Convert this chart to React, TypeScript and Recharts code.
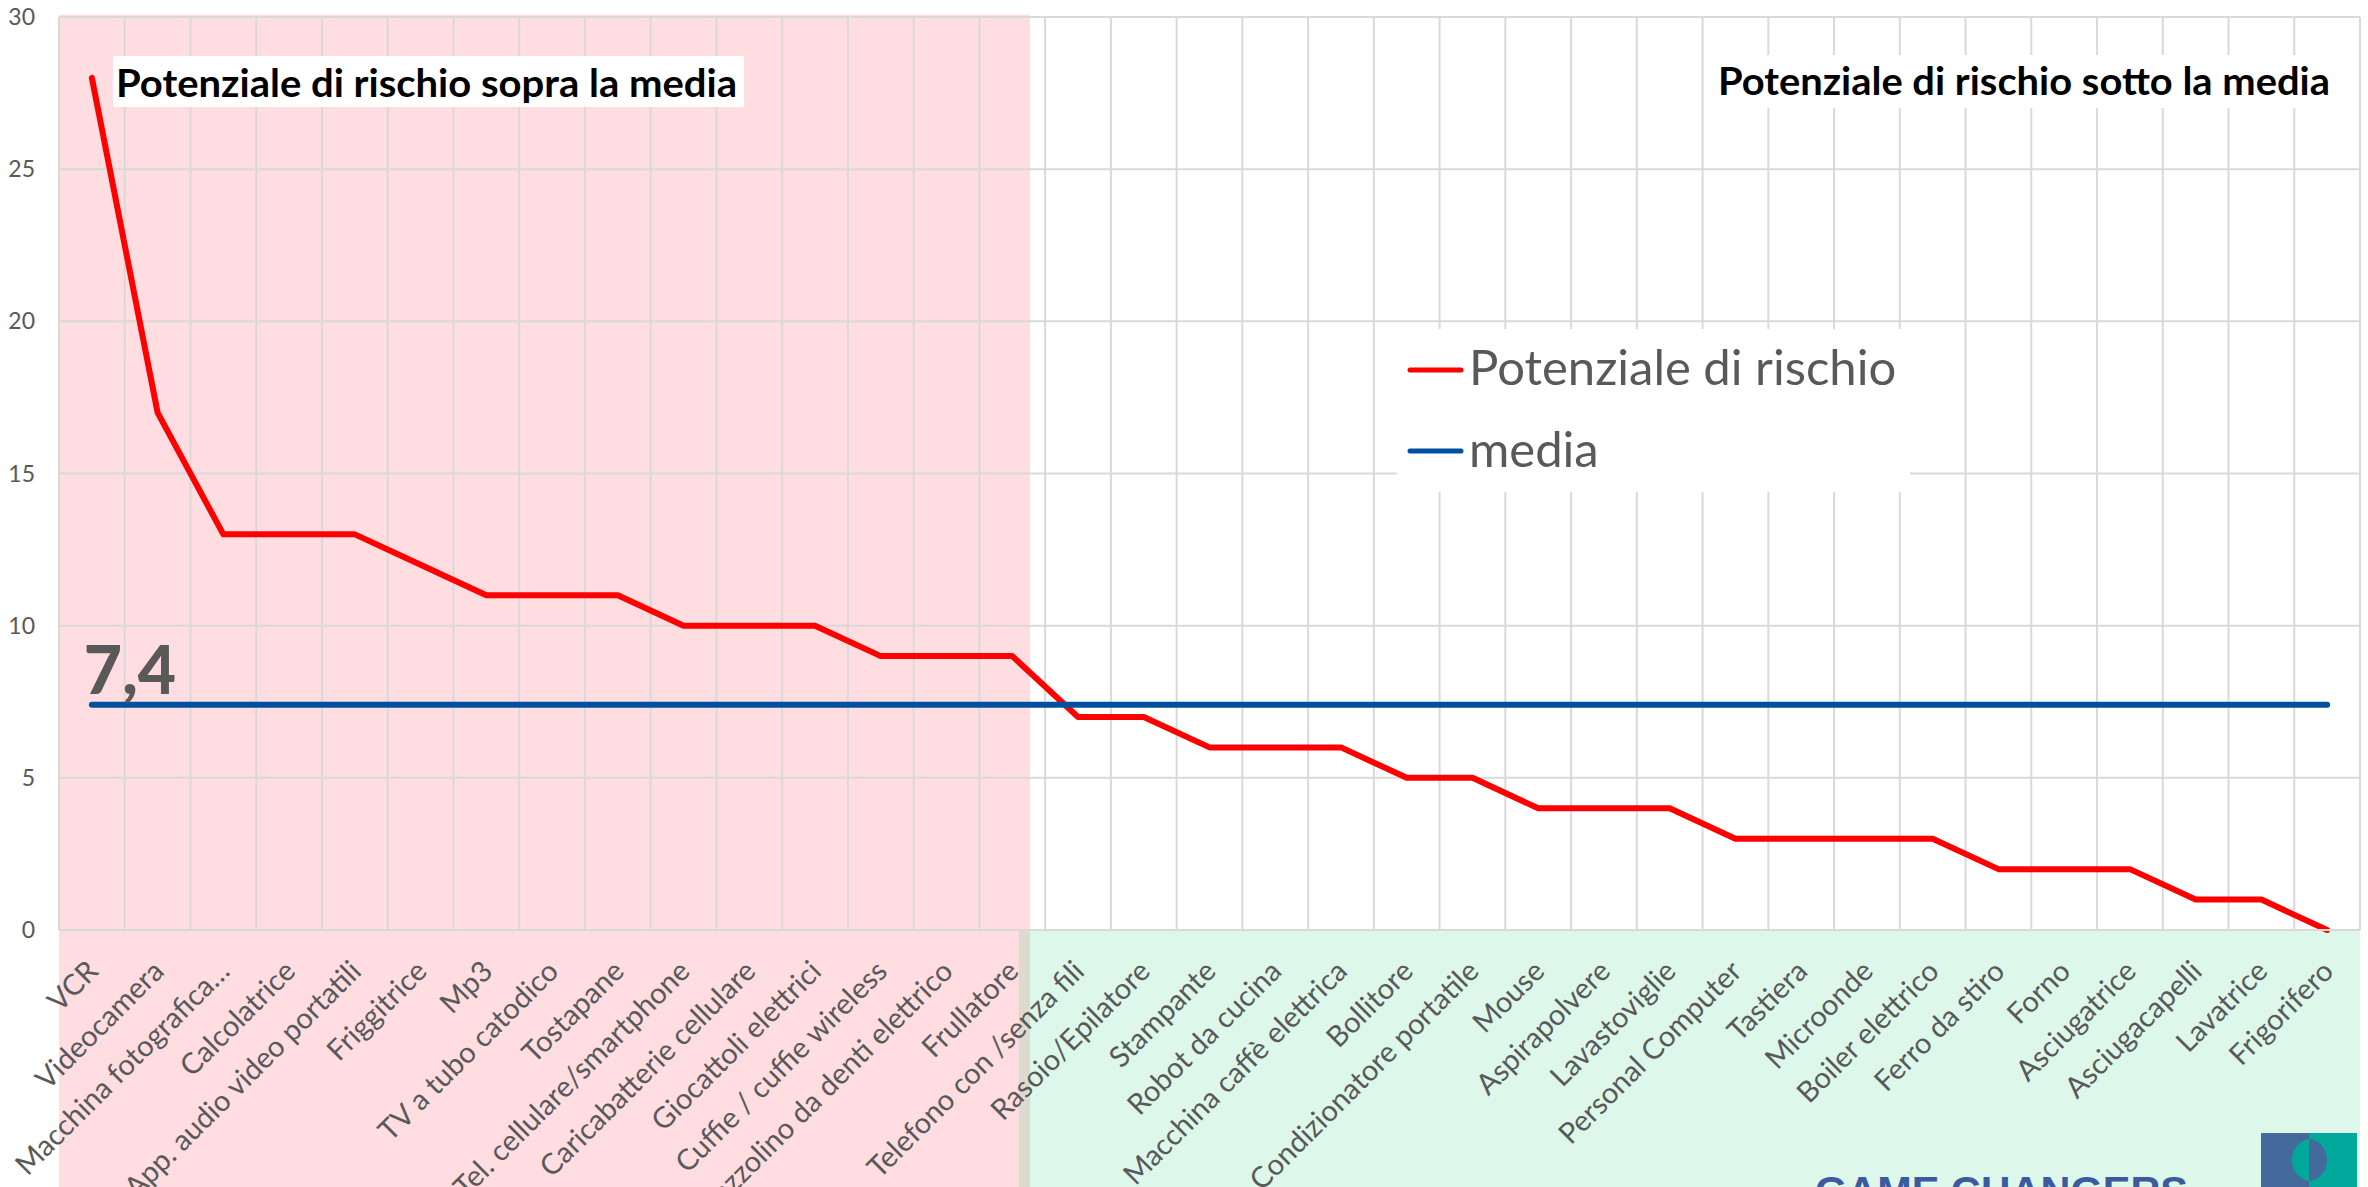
import React from "react";
import {
  LineChart,
  Line,
  XAxis,
  YAxis,
  CartesianGrid,
  ReferenceArea,
  Legend,
  LabelList,
} from "recharts";

const categories = [
  "VCR",
  "Videocamera",
  "Macchina fotografica…",
  "Calcolatrice",
  "App. audio video portatili",
  "Friggitrice",
  "Mp3",
  "TV a tubo catodico",
  "Tostapane",
  "Tel. cellulare/smartphone",
  "Caricabatterie cellulare",
  "Giocattoli elettrici",
  "Cuffie / cuffie wireless",
  "Spazzolino da denti elettrico",
  "Frullatore",
  "Telefono con /senza fili",
  "Rasoio/Epilatore",
  "Stampante",
  "Robot da cucina",
  "Macchina caffè elettrica",
  "Bollitore",
  "Condizionatore portatile",
  "Mouse",
  "Aspirapolvere",
  "Lavastoviglie",
  "Personal Computer",
  "Tastiera",
  "Microonde",
  "Boiler elettrico",
  "Ferro da stiro",
  "Forno",
  "Asciugatrice",
  "Asciugacapelli",
  "Lavatrice",
  "Frigorifero",
];

const rischio = [
  28, 17, 13, 13, 13, 12, 11, 11, 11, 10, 10, 10, 9, 9, 9, 7, 7, 6, 6, 6, 5, 5,
  4, 4, 4, 3, 3, 3, 3, 2, 2, 2, 1, 1, 0,
];

const mediaValue = 7.4;
const yTicks = [0, 5, 10, 15, 20, 25, 30];
const serieRischio = "Potenziale di rischio";
const serieMedia = "media";
const titoloSopra = "Potenziale di rischio sopra la media";
const titoloSotto = "Potenziale di rischio sotto la media";

// table for recharts (numeric x so gridlines can sit between categories)
const data = categories.map((name, i) => ({
  idx: i,
  name,
  rischio: rischio[i],
  media: mediaValue,
  mediaLabel: i === 0 ? String(mediaValue).replace(".", ",") : undefined,
}));
const xTicks = categories.map((_, i) => i);
const boundaries = [...categories.map((_, i) => i - 0.5), categories.length - 0.5];

const GRAY = "#595959";
const FONT = "Lato, 'Open Sans', sans-serif";

function XTick({ x, y, payload }: any) {
  const label = categories[payload.value] ?? "";
  return (
    <g transform={`translate(${x + 8},${y + 43}) rotate(-45)`}>
      <text textAnchor="end" fontSize={29} fill={GRAY} fontFamily={FONT}>
        {label}
      </text>
    </g>
  );
}

function MediaLabel({ x, y, value }: any) {
  if (value === undefined || value === null || value === "") return null;
  return (
    <text x={x - 8} y={y - 11} fontSize={66} fontWeight={900} fill={GRAY} fontFamily={FONT}>
      {value}
    </text>
  );
}

function LegendBox({ payload }: any) {
  const items = payload ?? [];
  return (
    <svg width={513} height={163} style={{ display: "block" }}>
      <rect width={513} height={163} fill="#ffffff" />
      {items.map((it: any, i: number) => (
        <g key={i}>
          <line
            x1={13}
            x2={64}
            y1={41 + i * 81}
            y2={41 + i * 81}
            stroke={it.color}
            strokeWidth={5}
            strokeLinecap="round"
          />
          <text x={72} y={56 + i * 82} fontSize={49} fill={GRAY} fontFamily={FONT}>
            {it.value}
          </text>
        </g>
      ))}
    </svg>
  );
}

function verticalLines({ xAxis, offset }: any) {
  const s = xAxis?.scale;
  return boundaries.map((b) => {
    if (typeof s === "function") return s(b);
    if (s && typeof s.map === "function") return s.map(b);
    return offset.left + ((b + 0.5) / categories.length) * offset.width;
  });
}

export default function App() {
  return (
    <div
      style={{
        position: "absolute",
        left: 0,
        top: 0,
        width: 2368,
        height: 1187,
        overflow: "hidden",
        background: "#ffffff",
        fontFamily: FONT,
      }}
    >
      <LineChart
        width={2368}
        height={1187}
        data={data}
        margin={{ top: 17, right: 8, left: 0, bottom: 0 }}
      >
        <ReferenceArea
          x1={-0.5}
          x2={14.27}
          y1={-9}
          y2={30.07}
          ifOverflow="visible"
          fill="rgb(255,0,22)"
          fillOpacity={0.133}
          stroke="none"
          zIndex={-200}
        />
        <ReferenceArea
          x1={14.1}
          x2={34.5}
          y1={-9}
          y2={0}
          ifOverflow="visible"
          fill="rgb(28,208,115)"
          fillOpacity={0.15}
          stroke="none"
          zIndex={-200}
        />
        <CartesianGrid
          stroke="#d9d9d9"
          strokeWidth={2}
          verticalCoordinatesGenerator={verticalLines}
        />
        <XAxis
          type="number"
          dataKey="idx"
          domain={[-0.5, categories.length - 0.5]}
          ticks={xTicks}
          interval={0}
          height={257}
          tick={<XTick />}
          tickLine={false}
          tickSize={0}
          tickMargin={0}
          axisLine={{ stroke: "#d9d9d9", strokeWidth: 2 }}
        />
        <YAxis
          domain={[0, 30]}
          ticks={yTicks}
          width={59}
          axisLine={false}
          tickLine={false}
          tickSize={0}
          tickMargin={24}
          tick={{ fill: GRAY, fontSize: 23, fontFamily: FONT }}
        />
        <Legend
          layout="vertical"
          align="center"
          verticalAlign="middle"
          content={(p: any) => <LegendBox {...p} />}
          wrapperStyle={{ left: 1397, top: 329, width: 513, height: 163 }}
        />
        <Line
          type="linear"
          dataKey="rischio"
          name={serieRischio}
          stroke="#ff0000"
          strokeWidth={6}
          strokeLinecap="round"
          strokeLinejoin="round"
          dot={false}
          activeDot={false}
          isAnimationActive={false}
        />
        <Line
          type="linear"
          dataKey="media"
          name={serieMedia}
          stroke="#0050a0"
          strokeWidth={6}
          strokeLinecap="round"
          dot={false}
          activeDot={false}
          isAnimationActive={false}
        >
          <LabelList dataKey="mediaLabel" content={<MediaLabel />} />
        </Line>
      </LineChart>

      {/* text boxes and logo drawn over the chart like in the original slide */}
      <svg
        width={2368}
        height={1187}
        style={{ position: "absolute", left: 0, top: 0, pointerEvents: "none" }}
      >
        <rect x={113} y={56} width={631} height={51} fill="#ffffff" />
        <text
          x={116}
          y={97}
          fontSize={39}
          fontWeight={700}
          fill="#000000"
          fontFamily={FONT}
          textLength={621}
          lengthAdjust="spacingAndGlyphs"
        >
          {titoloSopra}
        </text>
        <rect x={1706} y={55} width={640} height={53} fill="#ffffff" />
        <text
          x={1718}
          y={95}
          fontSize={39}
          fontWeight={700}
          fill="#000000"
          fontFamily={FONT}
          textLength={612}
          lengthAdjust="spacingAndGlyphs"
        >
          {titoloSotto}
        </text>

        <text
          x={1815}
          y={1205}
          fontSize={40}
          fontWeight={700}
          fill="#3c5a9e"
          fontFamily="'Liberation Sans', Arial, sans-serif"
          textLength={373}
          lengthAdjust="spacingAndGlyphs"
        >
          GAME CHANGERS
        </text>
        <rect x={2261} y={1133} width={48} height={60} fill="#446a9c" />
        <rect x={2309} y={1133} width={48} height={60} fill="#00a89c" />
        <path d="M2309 1139 A19 21 0 0 0 2292 1160 A19 21 0 0 0 2309 1181 Z" fill="#00a89c" />
        <path d="M2309 1139 A19 21 0 0 1 2327 1160 A19 21 0 0 1 2309 1181 Z" fill="#446a9c" />
      </svg>
    </div>
  );
}
